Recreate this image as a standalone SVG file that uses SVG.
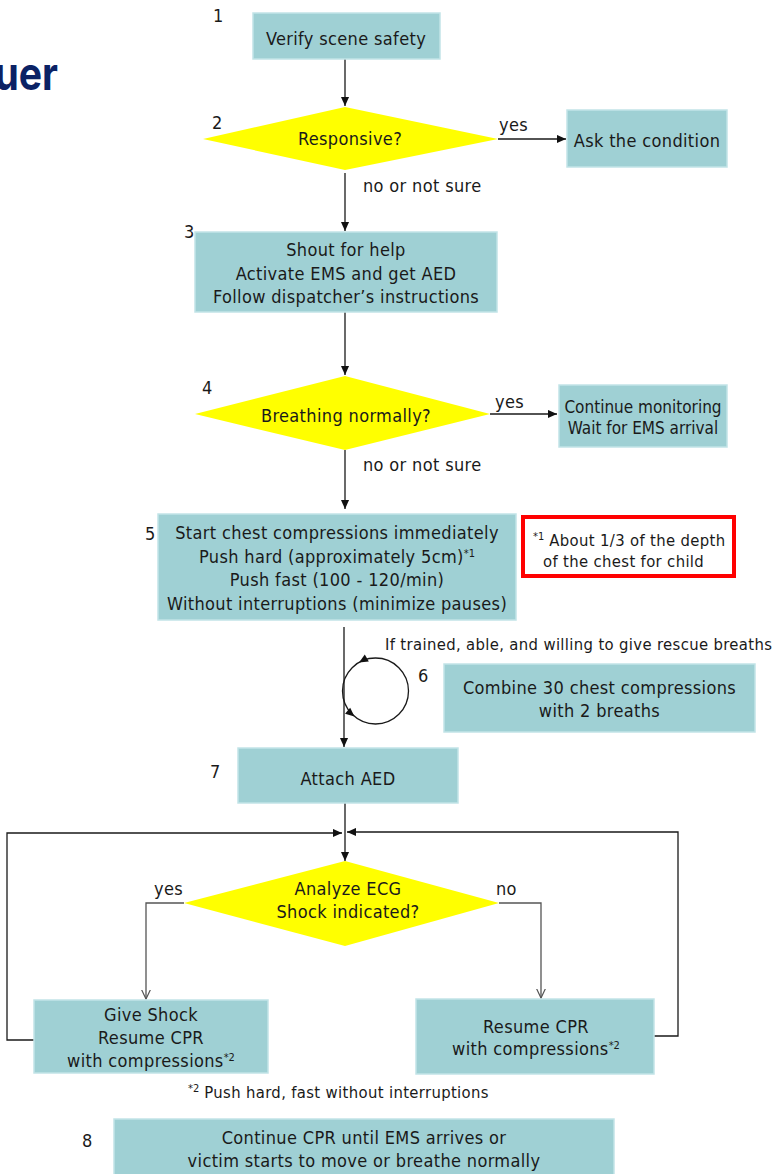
<svg xmlns="http://www.w3.org/2000/svg" width="777" height="1174" viewBox="0 0 777 1174">
<style>
.box{fill:#9fd0d4;stroke:#c2e4e7;stroke-width:1.5}
.dia{fill:#ffff00;stroke:none}
.t{font-family:'DejaVu Sans Condensed','DejaVu Sans',sans-serif;font-stretch:condensed;font-size:18px;letter-spacing:0.35px;fill:#1a1a1a;text-anchor:middle}
.tm{font-family:'DejaVu Sans Condensed','DejaVu Sans',sans-serif;font-stretch:condensed;font-size:17px;fill:#1a1a1a;text-anchor:middle}
.s{font-family:'DejaVu Sans Condensed','DejaVu Sans',sans-serif;font-stretch:condensed;font-size:16.5px;letter-spacing:0.35px;fill:#1a1a1a}
.n{font-family:'DejaVu Sans Condensed','DejaVu Sans',sans-serif;font-stretch:condensed;font-size:18px;letter-spacing:0.35px;fill:#1a1a1a}
.c{fill:none;stroke:#1a1a1a;stroke-width:1.3}
.g{fill:none;stroke:#555;stroke-width:1.3}
.sup{font-size:11px;letter-spacing:0}
</style>
<defs>
<marker id="arr" viewBox="0 0 10 10" refX="10" refY="5" markerWidth="9" markerHeight="9" markerUnits="userSpaceOnUse" orient="auto"><path d="M0,0.5 L10,5 L0,9.5 z" fill="#111"/></marker>
<marker id="open" viewBox="0 0 10 10" refX="9.5" refY="5" markerWidth="10" markerHeight="10" markerUnits="userSpaceOnUse" orient="auto"><path d="M0,0.5 L9.5,5 L0,9.5" fill="none" stroke="#555" stroke-width="1.2"/></marker>
</defs>
<rect width="777" height="1174" fill="#ffffff"/>
<text x="68.2" y="90" transform="scale(0.85,1)" text-anchor="end" font-family="Inter, 'Open Sans', sans-serif" font-weight="bold" font-size="46" fill="#0b2265">uer</text>

<g id="connectors">
<path class="c" d="M345,59 V106" marker-end="url(#arr)"/>
<path class="c" d="M345,173 V231" marker-end="url(#arr)"/>
<path class="c" d="M345,312 V375" marker-end="url(#arr)"/>
<path class="c" d="M345,450 V509" marker-end="url(#arr)"/>
<path class="c" d="M498,139 H566" marker-end="url(#arr)"/>
<path class="c" d="M490,414 H557" marker-end="url(#arr)"/>
<path class="c" d="M344,627 V747" marker-end="url(#arr)"/>
<path class="c" d="M345,803 V861" marker-end="url(#arr)"/>
<path class="c" d="M34,1040 H7 V833 H342" marker-end="url(#arr)"/>
<path class="c" d="M654,1036 H678 V832 H347" marker-end="url(#arr)"/>
<path class="g" d="M184,903 H146 V999" marker-end="url(#open)"/>
<path class="g" d="M499,903 H541 V998" marker-end="url(#open)"/>
<circle class="c" cx="375.5" cy="691" r="33"/>
<polygon points="0,0 -9,-4 -9,4" fill="#111" transform="translate(359,662.5) rotate(150)"/>
<polygon points="0,0 -9,-4 -9,4" fill="#111" transform="translate(354.5,716.5) rotate(40)"/>
<text class="n" x="499" y="131">yes</text>
<text class="n" x="495" y="408">yes</text>
<text class="n" x="363" y="192">no or not sure</text>
<text class="n" x="363" y="471">no or not sure</text>
<text class="n" x="154" y="895">yes</text>
<text class="n" x="496" y="895">no</text>
<text class="s" x="385" y="650">If trained, able, and willing to give rescue breaths</text>
</g>

<g id="node1">
<text class="n" x="213" y="22">1</text>
<rect class="box" x="253" y="13" width="187" height="46"/>
<text class="t" x="346" y="45">Verify scene safety</text>
</g>

<g id="node2">
<text class="n" x="212" y="129">2</text>
<polygon class="dia" points="203,139 345,107 498,139 345,170"/>
<text class="t" x="350" y="145">Responsive?</text>
</g>

<g id="node-ask">
<rect class="box" x="567" y="110" width="160" height="57"/>
<text class="t" x="647" y="147">Ask the condition</text>
</g>

<g id="node3">
<text class="n" x="184" y="238">3</text>
<rect class="box" x="195" y="232" width="302" height="80"/>
<text class="t" x="346" y="256">Shout for help</text>
<text class="t" x="346" y="280">Activate EMS and get AED</text>
<text class="t" x="346" y="303">Follow dispatcher’s instructions</text>
</g>

<g id="node4">
<text class="n" x="202" y="394">4</text>
<polygon class="dia" points="195,414 345,376 490,414 345,450"/>
<text class="t" x="346" y="422">Breathing normally?</text>
</g>

<g id="node-monitor">
<rect class="box" x="559" y="385" width="168" height="62"/>
<text class="tm" x="643" y="413">Continue monitoring</text>
<text class="tm" x="643" y="434">Wait for EMS arrival</text>
</g>

<g id="node5">
<text class="n" x="145" y="540">5</text>
<rect class="box" x="158" y="514" width="358" height="106"/>
<text class="t" x="337" y="539">Start chest compressions immediately</text>
<text class="t" x="337" y="563">Push hard (approximately 5cm)<tspan class="sup" dy="-6">*1</tspan></text>
<text class="t" x="337" y="586">Push fast (100 - 120/min)</text>
<text class="t" x="337" y="610">Without interruptions (minimize pauses)</text>
</g>

<g id="note1">
<rect x="523" y="517" width="211" height="59" fill="#ffffff" stroke="#ff0000" stroke-width="4"/>
<text class="s" x="533" y="546"><tspan class="sup" dy="-6">*1</tspan><tspan dy="6"> About 1/3 of the depth</tspan></text>
<text class="s" x="543" y="567">of the chest for child</text>
</g>

<g id="node6">
<text class="n" x="418" y="682">6</text>
<rect class="box" x="444" y="664" width="311" height="68"/>
<text class="t" x="599.5" y="694">Combine 30 chest compressions</text>
<text class="t" x="599.5" y="717">with 2 breaths</text>
</g>

<g id="node7">
<text class="n" x="210" y="778">7</text>
<rect class="box" x="238" y="748" width="220" height="55"/>
<text class="t" x="348" y="785">Attach AED</text>
</g>

<g id="node-ecg">
<polygon class="dia" points="184,903 345,861 499,903 345,946"/>
<text class="t" x="348" y="895">Analyze ECG</text>
<text class="t" x="348" y="918">Shock indicated?</text>
</g>

<g id="node-shock">
<rect class="box" x="34" y="1000" width="234" height="73"/>
<text class="t" x="151" y="1021">Give Shock</text>
<text class="t" x="151" y="1044">Resume CPR</text>
<text class="t" x="151" y="1067">with compressions<tspan class="sup" dy="-6">*2</tspan></text>
</g>

<g id="node-resume">
<rect class="box" x="416" y="999" width="238" height="75"/>
<text class="t" x="536" y="1033">Resume CPR</text>
<text class="t" x="536" y="1055">with compressions<tspan class="sup" dy="-6">*2</tspan></text>
</g>

<g id="note2">
<text class="s" x="188" y="1098"><tspan class="sup" dy="-6">*2</tspan><tspan dy="6"> Push hard, fast without interruptions</tspan></text>
</g>

<g id="node8">
<text class="n" x="82" y="1147">8</text>
<rect class="box" x="114" y="1119" width="500" height="70"/>
<text class="t" x="364" y="1144">Continue CPR until EMS arrives or</text>
<text class="t" x="364" y="1167">victim starts to move or breathe normally</text>
</g>
</svg>
